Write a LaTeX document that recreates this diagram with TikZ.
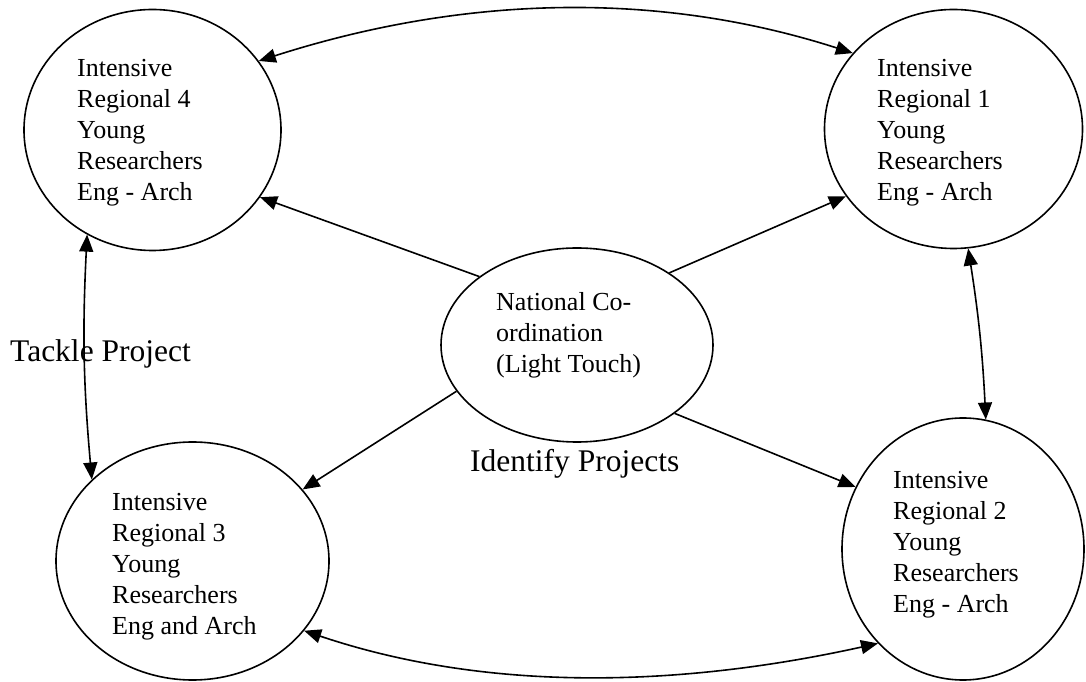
\documentclass[tikz,border=0pt]{standalone}
\usepackage{fontspec}
\setmainfont{Liberation Serif}
\usetikzlibrary{arrows.meta,shapes.geometric}
\begin{document}
\begin{tikzpicture}[x=1pt,y=1pt,
  blob/.style={draw,ellipse,line width=1.6pt,inner sep=0pt},
  rtext/.style={font=\fontsize{26}{31}\selectfont,align=left,inner sep=0pt,anchor=north west},
  lab/.style={font=\fontsize{31.5}{36}\selectfont,inner sep=0pt,anchor=base west},
  tip/.tip={Triangle[length=17pt,width=14pt]},
  conn/.style={line width=1.6pt,-tip},
  conn2/.style={line width=1.6pt,tip-tip}]
\useasboundingbox (0,0) rectangle (1086,682);
% ellipses
\node[blob,minimum width=257pt,minimum height=241pt] (r4) at (152.5,552) {};
\node[blob,minimum width=258pt,minimum height=239pt] (r1) at (953.5,553) {};
\node[blob,minimum width=273pt,minimum height=238pt] (r3) at (192.5,121) {};
\node[blob,minimum width=242pt,minimum height=262pt] (r2) at (963,133) {};
\node[blob,minimum width=272pt,minimum height=194pt] (c) at (577,337) {};
% texts
\node[rtext] (t4) at (77,627.7) {\strut Intensive\\Regional 4\\Young\\Researchers\\Eng - Arch};
\node[rtext] (t1) at (877,627.7) {\strut Intensive\\Regional 1\\Young\\Researchers\\Eng - Arch};
\node[rtext] (t3) at (112,193.7) {\strut Intensive\\Regional 3\\Young\\Researchers\\Eng and Arch};
\node[rtext] (t2) at (893,215.7) {\strut Intensive\\Regional 2\\Young\\Researchers\\Eng - Arch};
\node[rtext] (tc) at (496,393.7) {\strut National Co-\\ordination\\(Light Touch)};
\node[lab] (tackle) at (10,320) {Tackle Project};
\node[lab] (ident) at (470,210) {Identify Projects};
% straight arrows from centre
\draw[conn] (c.145.3) -- (r4.-32.2);
\draw[conn] (c.38.7) -- (r1.212);
\draw[conn] (c.201.8) -- (r3.33.8);
\draw[conn] (c.-35.1) -- (r2.150.5);
% curved double arrows
\draw[conn2] (r4.33) .. controls (455,684) and (650,694) .. (r1.143.5);
\draw[conn2] (r3.-32.6) .. controls (495,-13) and (690,-3) .. (r2.228);
\draw[conn2] (r4.-122.3) to[bend right=4] (r3.141.5);
\draw[conn2] (r1.-83) to[bend left=3] (r2.80.4);
\end{tikzpicture}
\end{document}
